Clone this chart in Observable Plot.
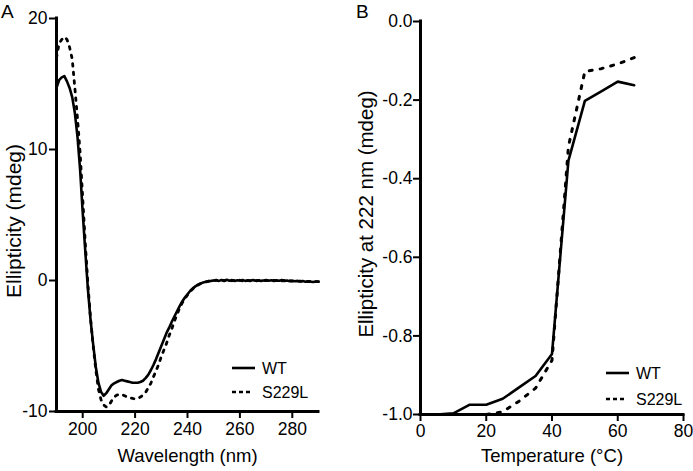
<!DOCTYPE html>
<html>
<head>
<meta charset="utf-8">
<script src="https://cdn.jsdelivr.net/npm/d3@7"></script>
<script src="https://cdn.jsdelivr.net/npm/@observablehq/plot@0.6"></script>
<style>
  html, body { margin: 0; padding: 0; background: #fff; }
  #wrap { position: relative; width: 693px; height: 471px; overflow: hidden; background: #fff; }
  #wrap svg { position: absolute; top: 0; }
  .plab { position: absolute; font-family: "Liberation Sans", Arial, Helvetica, sans-serif; font-size: 19px; line-height: 19px; color: #000; }
</style>
</head>
<body>
<div id="wrap">
  <div class="plab" style="left:1px;top:2px;">A</div>
  <div class="plab" style="left:356px;top:2px;">B</div>
</div>
<script>
// ---------- Panel A: CD spectra ----------
const wavelengthStart = 190, wavelengthEnd = 290;
const wavelengths = d3.range(wavelengthStart, wavelengthEnd + 1);
const wtSpectrum = [
  14.7, 15.3, 15.5, 15.6, 15.2, 14.7, 14.0, 12.8, 11.0, 8.5,
  5.2, 2.2, -0.7, -3.0, -4.9, -6.6, -7.8, -8.5, -8.8, -8.6,
  -8.3, -8.0, -7.85, -7.75, -7.65, -7.6, -7.65, -7.7, -7.75, -7.8,
  -7.8, -7.8, -7.75, -7.65, -7.45, -7.2, -6.85, -6.45, -6.0, -5.5,
  -5.0, -4.5, -4.0, -3.6, -3.15, -2.75, -2.35, -1.95, -1.6, -1.3,
  -1.05, -0.8, -0.6, -0.45, -0.32, -0.22, -0.15, -0.1, -0.05, -0.03,
  0.0, 0.02, -0.03, 0.04, 0.0, 0.05, -0.02, 0.03, -0.04, 0.02,
  0.0, 0.04, -0.03, 0.01, -0.02, 0.03, -0.01, 0.02, -0.03, 0.0,
  0.03, -0.02, 0.02, -0.04, 0.01, -0.02, 0.03, -0.03, 0.0, -0.05,
  -0.02, -0.06, -0.03, -0.08, -0.04, -0.1, -0.06, -0.09, -0.12, -0.07, -0.1
];
const s229lSpectrum = [
  17.0, 18.1, 18.4, 18.6, 18.4, 17.8, 16.9, 14.7, 12.4, 9.8,
  6.3, 2.8, -0.3, -2.9, -5.0, -6.8, -8.3, -9.1, -9.5, -9.65,
  -9.55, -9.2, -8.9, -8.75, -8.7, -8.7, -8.8, -8.9, -8.95, -9.0,
  -9.05, -9.0, -8.9, -8.75, -8.55, -8.2, -7.85, -7.35, -6.9, -6.4,
  -5.8, -5.3, -4.8, -4.2, -3.7, -3.1, -2.6, -2.1, -1.7, -1.4,
  -1.1, -0.85, -0.65, -0.48, -0.35, -0.25, -0.17, -0.11, -0.06, -0.03,
  -0.01, 0.03, -0.02, 0.02, -0.03, 0.04, 0.0, -0.02, 0.03, -0.01,
  0.02, -0.03, 0.03, 0.0, -0.02, 0.02, -0.04, 0.01, 0.03, -0.02,
  0.0, 0.02, -0.03, 0.01, -0.01, 0.03, -0.02, 0.0, -0.04, -0.01,
  -0.05, -0.02, -0.06, -0.04, -0.08, -0.05, -0.09, -0.07, -0.1, -0.08, -0.09
];
const xTicksA = [200, 220, 240, 260, 280];
const yTicksA = [-10, 0, 10, 20];
const yDomainA = [-10, 20];

// ---------- Panel B: thermal melt ----------
const temperatures = [0, 5, 10, 15, 20, 25, 30, 35, 40, 45, 50, 55, 60, 65];
const wtMelt = [-1.0, -1.0, -0.997, -0.975, -0.975, -0.96, -0.931, -0.902, -0.846, -0.354, -0.202, -0.178, -0.153, -0.162];
const s229lMelt = [-1.0, -1.0, -1.0, -1.0, -1.0, -0.993, -0.966, -0.933, -0.862, -0.318, -0.127, -0.12, -0.108, -0.092];
const xTicksB = [0, 20, 40, 60, 80];
const yTicksB = [-1.0, -0.8, -0.6, -0.4, -0.2, 0.0];
const xDomainB = [0, 80];
const yDomainB = [-1.0, 0.0];

const seriesNames = ["WT", "S229L"];
const FONT = '"Liberation Sans", Arial, Helvetica, sans-serif';

const specData = [];
wavelengths.forEach((w, i) => {
  specData.push({x: w, y: wtSpectrum[i], s: seriesNames[0]});
  specData.push({x: w, y: s229lSpectrum[i], s: seriesNames[1]});
});
const meltData = [];
temperatures.forEach((t, i) => {
  meltData.push({x: t, y: wtMelt[i], s: seriesNames[0]});
  meltData.push({x: t, y: s229lMelt[i], s: seriesNames[1]});
});

const plotA = Plot.plot({
  width: 340, height: 471,
  marginLeft: 56, marginRight: 22, marginTop: 18, marginBottom: 60,
  style: {fontFamily: FONT, fontSize: "17.5px", color: "#000", background: "transparent", overflow: "visible"},
  x: {domain: [wavelengthStart, wavelengthEnd]},
  y: {domain: yDomainA},
  marks: [
    Plot.line(specData.filter(d => d.s === seriesNames[0]), {x: "x", y: "y", stroke: "#000", strokeWidth: 2.6}),
    Plot.line(specData.filter(d => d.s === seriesNames[1]), {x: "x", y: "y", stroke: "#000", strokeWidth: 2.8, strokeDasharray: "2.6,6"}),
    Plot.ruleX([wavelengthStart], {stroke: "#000", strokeWidth: 3, strokeLinecap: "square"}),
    Plot.ruleY([yDomainA[0]], {stroke: "#000", strokeWidth: 3, strokeLinecap: "square"}),
    Plot.axisX({ticks: xTicksA, tickSize: 7, tickPadding: 4, strokeWidth: 2, label: null, tickFormat: d => String(d), fontSize: 17.5}),
    Plot.axisY({ticks: yTicksA, tickSize: 7, tickPadding: 2, strokeWidth: 2, label: null, tickFormat: d => String(d), fontSize: 17.5}),
    Plot.text(["Wavelength (nm)"], {text: d => d, frameAnchor: "bottom", lineAnchor: "middle", textAnchor: "middle", dy: 45, fontSize: 18.5}),
    Plot.text(["Ellipticity (mdeg)"], {text: d => d, frameAnchor: "left", lineAnchor: "middle", textAnchor: "middle", dx: -42, dy: 6, rotate: -90, fontSize: 21})
  ]
});
plotA.style.left = "0px";

const plotB = Plot.plot({
  width: 353, height: 471,
  marginLeft: 80, marginRight: 10, marginTop: 21, marginBottom: 57,
  style: {fontFamily: FONT, fontSize: "17.5px", color: "#000", background: "transparent", overflow: "visible"},
  x: {domain: xDomainB},
  y: {domain: yDomainB},
  marks: [
    Plot.line(meltData.filter(d => d.s === seriesNames[0]), {x: "x", y: "y", stroke: "#000", strokeWidth: 2.6}),
    Plot.line(meltData.filter(d => d.s === seriesNames[1]), {x: "x", y: "y", stroke: "#000", strokeWidth: 3, strokeDasharray: "3,8"}),
    Plot.ruleX([xDomainB[0]], {stroke: "#000", strokeWidth: 3, strokeLinecap: "square"}),
    Plot.ruleY([yDomainB[0]], {stroke: "#000", strokeWidth: 3, strokeLinecap: "square"}),
    Plot.axisX({ticks: xTicksB, tickSize: 7, tickPadding: 3, strokeWidth: 2, label: null, tickFormat: d => String(d), fontSize: 17.5}),
    Plot.axisY({ticks: yTicksB, tickSize: 7, tickPadding: 1, strokeWidth: 2, label: null, tickFormat: d => d.toFixed(1), fontSize: 17.5}),
    Plot.text(["Temperature (°C)"], {text: d => d, frameAnchor: "bottom", lineAnchor: "middle", textAnchor: "middle", dy: 42, fontSize: 18.5}),
    Plot.text(["Ellipticity at 222 nm (mdeg)"], {text: d => d, frameAnchor: "left", lineAnchor: "middle", textAnchor: "middle", dx: -54, dy: -4, rotate: -90, fontSize: 20.5})
  ]
});
plotB.style.left = "340px";

const wrap = document.getElementById("wrap");
wrap.appendChild(plotA);
wrap.appendChild(plotB);

// legends
function addLegend(svgEl, x0, y0, gap) {
  const g = d3.select(svgEl).append("g")
    .attr("font-family", FONT).attr("font-size", 16).attr("fill", "#000").attr("text-anchor", "start");
  g.append("line").attr("x1", x0).attr("x2", x0 + 23).attr("y1", y0).attr("y2", y0)
    .attr("stroke", "#000").attr("stroke-width", 2.6);
  g.append("line").attr("x1", x0).attr("x2", x0 + 20).attr("y1", y0 + gap).attr("y2", y0 + gap)
    .attr("stroke", "#000").attr("stroke-width", 2.6).attr("stroke-dasharray", "4,3");
  g.append("text").attr("x", x0 + 30).attr("y", y0).attr("dy", "0.36em").text(seriesNames[0]);
  g.append("text").attr("x", x0 + 30).attr("y", y0 + gap).attr("dy", "0.36em").text(seriesNames[1]);
}
addLegend(plotA, 232, 368, 24);
addLegend(plotB, 266, 373, 26);
</script>
</body>
</html>
